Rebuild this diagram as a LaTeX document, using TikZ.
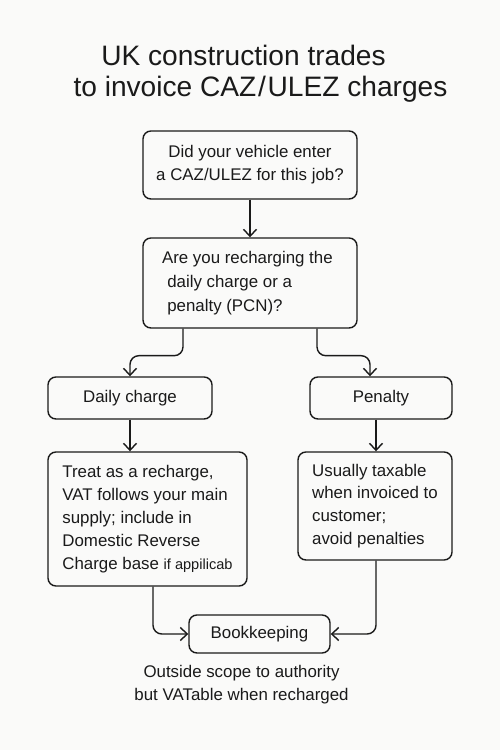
\documentclass[tikz,border=0pt]{standalone}
\usepackage{fontspec}
\setmainfont{Liberation Sans}
\usepackage{tikz}
\usetikzlibrary{arrows.meta,positioning,calc}
\usepackage{xcolor}
\definecolor{inkblack}{RGB}{26,26,26}
\definecolor{paper}{RGB}{250,250,249}

\begin{document}
\begin{tikzpicture}[>={Straight Barb[length=1.4mm,width=2.6mm]},line width=0.8pt,
  every node/.style={font=\fontsize{9.6}{13}\selectfont,text=inkblack},
  box/.style={draw=inkblack,rounded corners=4.5pt,align=left,inner sep=0pt},
  title/.style={font=\fontsize{16}{19}\selectfont}]
  \fill[paper](0,0)rectangle(10,15);
  \node[title] (t1) at (4.87,13.9){UK construction trades};
  \node[title] (t2) at (5.21,13.22){to invoice CAZ\kern1pt/\kern1pt ULEZ charges};
  \node[box,align=center,minimum width=4.28cm,minimum height=1.36cm] (q1) at (5.0,11.7)
    {Did your vehicle enter\\a CAZ/ULEZ for this job?};
  \node[box,font=\fontsize{9.6}{13.6}\selectfont,minimum width=4.28cm,minimum height=1.8cm] (q2) at (5.0,9.34)
    {\hspace*{-3pt}Are you recharging the\\daily charge or a\\penalty (PCN)?};
  \node[box,minimum width=3.28cm,minimum height=0.84cm] (daily) at (2.6,7.04){Daily charge};
  \node[box,minimum width=2.84cm,minimum height=0.84cm] (pen) at (7.62,7.04){Penalty};
  \node[box,minimum width=3.98cm,minimum height=2.68cm] (treat) at (2.95,4.62)
    {Treat as a recharge,\\VAT follows your main\\supply; include in\\Domestic Reverse\\Charge base {\fontsize{8.3}{13}\selectfont if appilicab}};
  \node[box,minimum width=3.08cm,minimum height=2.16cm] (tax) at (7.5,4.88)
    {Usually taxable\\when invoiced to\\customer;\\avoid penalties};
  \node[box,minimum width=2.82cm,minimum height=0.76cm] (book) at (5.19,2.32){Bookkeeping};
  \node[align=center] (note) at (4.83,1.3)
    {Outside scope to authority\\but VATable when recharged};
  \draw[->,inkblack](q1)--(q2);
  \draw[->,inkblack,rounded corners=5pt]([xshift=-1.34cm]q2.south)--++(0,-0.54)-|(daily.north);
  \draw[->,inkblack,rounded corners=5pt]([xshift=1.34cm]q2.south)--++(0,-0.54)-|([xshift=-0.22cm]pen.north);
  \draw[->,inkblack](daily.south)--(daily.south|-treat.north);
  \draw[->,inkblack]([xshift=-0.1cm]pen.south)--([xshift=-0.1cm]pen.south|-tax.north);
  \draw[->,inkblack,rounded corners=5pt]([xshift=0.11cm]treat.south)|-(book.west);
  \draw[->,inkblack,rounded corners=5pt]([xshift=0.02cm]tax.south)|-(book.east);
\end{tikzpicture}
\end{document}
